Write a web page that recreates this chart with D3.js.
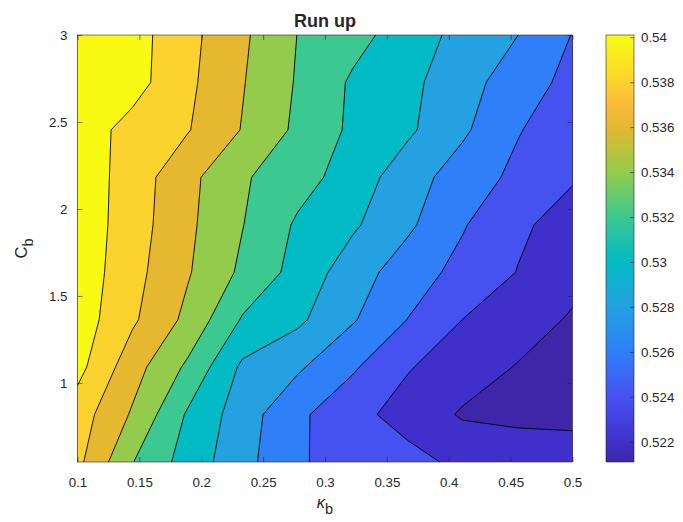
<!DOCTYPE html>
<html>
<head>
<meta charset="utf-8">
<script src="https://cdn.jsdelivr.net/npm/d3@7/dist/d3.min.js"></script>
<style>
  html, body { margin: 0; padding: 0; background: #fff; }
  svg text { font-family: "Liberation Sans", Arial, Helvetica, sans-serif; fill: #262626; }
</style>
</head>
<body>
<svg id="chart" width="683" height="522"></svg>
<script>
// Grid of the run-up study: κ_b across, C_b down the rows
const kappa = [0.1, 0.1444, 0.1889, 0.2333, 0.2778, 0.3222, 0.3667, 0.4111, 0.4556, 0.5];
const cB = [0.5455, 0.8182, 1.0909, 1.3636, 1.6364, 1.9091, 2.1818, 2.4545, 2.7273, 3.0];

// Run-up values, one row per C_b (ascending), one column per κ_b
const runUp = [
  [0.53850, 0.53407, 0.53116, 0.52868, 0.52618, 0.52534, 0.52470, 0.52350, 0.52354, 0.52297],
  [0.53900, 0.53577, 0.53177, 0.52896, 0.52639, 0.52467, 0.52317, 0.52180, 0.52140, 0.52150],
  [0.54064, 0.53682, 0.53365, 0.52962, 0.52830, 0.52626, 0.52415, 0.52293, 0.52190, 0.52110],
  [0.54110, 0.53831, 0.53551, 0.53181, 0.53040, 0.52819, 0.52597, 0.52399, 0.52286, 0.52180],
  [0.54130, 0.53866, 0.53619, 0.53361, 0.53130, 0.52896, 0.52697, 0.52540, 0.52395, 0.52260],
  [0.54130, 0.53895, 0.53641, 0.53406, 0.53172, 0.53030, 0.52837, 0.52617, 0.52430, 0.52330],
  [0.54130, 0.53906, 0.53657, 0.53424, 0.53279, 0.53112, 0.52889, 0.52704, 0.52555, 0.52415],
  [0.54110, 0.53930, 0.53813, 0.53590, 0.53360, 0.53163, 0.53035, 0.52834, 0.52613, 0.52480],
  [0.54090, 0.54078, 0.53843, 0.53612, 0.53382, 0.53173, 0.53053, 0.52877, 0.52698, 0.52541],
  [0.54090, 0.54081, 0.53861, 0.53634, 0.53397, 0.53268, 0.53106, 0.52937, 0.52802, 0.52593]
];

const levels = [0.522, 0.524, 0.526, 0.528, 0.530, 0.532, 0.534, 0.536, 0.538, 0.540];
const xTicks = [0.1, 0.15, 0.2, 0.25, 0.3, 0.35, 0.4, 0.45, 0.5];
const yTicks = [1, 1.5, 2, 2.5, 3];
const cbarTicks = [0.522, 0.524, 0.526, 0.528, 0.53, 0.532, 0.534, 0.536, 0.538, 0.54];
const cLim = [0.5211, 0.5401];

// parula-like colour ramp (position in colour limits -> colour)
const rampPos = [0, 0.047, 0.153, 0.258, 0.363, 0.468, 0.574, 0.679, 0.784, 0.84, 0.889, 0.995, 1];
const rampCol = ["#3e26a8", "#3f30cb", "#4652f0", "#2f7ff8", "#23a1e1", "#03bbc5", "#3cc891",
                 "#93cc4c", "#e5b82f", "#fbbb3d", "#fbd22e", "#f8fa14", "#f9fb0e"];
const ramp = d3.scaleLinear().domain(rampPos).range(rampCol).interpolate(d3.interpolateRgb).clamp(true);
const colorOf = v => ramp((v - cLim[0]) / (cLim[1] - cLim[0]));

const svg = d3.select("#chart");
const plot = { left: 77.5, right: 572.5, top: 35, bottom: 462 };
const axisColor = "#262626";
const fontFamily = '"Liberation Sans", Arial, Helvetica, sans-serif';

const x = d3.scaleLinear().domain([kappa[0], kappa[kappa.length - 1]]).range([plot.left, plot.right]);
const y = d3.scaleLinear().domain([cB[0], cB[cB.length - 1]]).range([plot.bottom, plot.top]);

// grid index -> data coordinate
const nx = kappa.length, ny = cB.length;
const ix = d3.scaleLinear().domain(d3.range(nx)).range(kappa);
const iy = d3.scaleLinear().domain(d3.range(ny)).range(cB);
const clampIdx = (u, n) => Math.max(0, Math.min(n - 1, u - 0.5));
const toPx = p => [x(ix(clampIdx(p[0], nx))), y(iy(clampIdx(p[1], ny)))];

const bands = d3.contours().size([nx, ny]).thresholds(levels)(runUp.flat());

const g = svg.append("g");

// lowest band fills the whole field
g.append("rect")
  .attr("x", plot.left).attr("y", plot.top)
  .attr("width", plot.right - plot.left).attr("height", plot.bottom - plot.top)
  .attr("fill", colorOf(cLim[0]));

// stacked filled regions, value >= level
const ringPath = ring => "M" + ring.map(p => toPx(p).map(v => v.toFixed(2)).join(",")).join("L") + "Z";
g.selectAll("path.band").data(bands).join("path")
  .attr("class", "band")
  .attr("fill", d => colorOf(d.value))
  .attr("fill-rule", "evenodd")
  .attr("d", d => d.coordinates.map(poly => poly.map(ringPath).join("")).join(""));

// contour lines, leaving out pieces that run along the frame
function linePath(d) {
  let out = "";
  const eq = (p, q) => Math.abs(p - q) < 1e-9;
  const onFrame = (a, b) => {
    const ua = clampIdx(a[0], nx), ub = clampIdx(b[0], nx);
    const va = clampIdx(a[1], ny), vb = clampIdx(b[1], ny);
    return (eq(ua, 0) && eq(ub, 0)) || (eq(ua, nx - 1) && eq(ub, nx - 1)) ||
           (eq(va, 0) && eq(vb, 0)) || (eq(va, ny - 1) && eq(vb, ny - 1));
  };
  d.coordinates.forEach(poly => poly.forEach(ring => {
    let pen = false;
    for (let i = 0; i < ring.length - 1; i++) {
      const a = ring[i], b = ring[i + 1];
      if (onFrame(a, b)) { pen = false; continue; }
      const pa = toPx(a), pb = toPx(b);
      if (!pen) { out += "M" + pa[0].toFixed(2) + "," + pa[1].toFixed(2); pen = true; }
      out += "L" + pb[0].toFixed(2) + "," + pb[1].toFixed(2);
    }
  }));
  return out;
}
g.selectAll("path.iso").data(bands).join("path")
  .attr("class", "iso")
  .attr("fill", "none")
  .attr("stroke", "#000")
  .attr("stroke-width", 0.9)
  .attr("stroke-linejoin", "round")
  .attr("d", linePath);

// axes frame and ticks (inward, mirrored on top/right)
const tickLen = 5;
const fontSize = 13.3;
svg.append("rect")
  .attr("x", plot.left).attr("y", plot.top)
  .attr("width", plot.right - plot.left).attr("height", plot.bottom - plot.top)
  .attr("fill", "none").attr("stroke", axisColor).attr("stroke-width", 0.6);

const xAxis = svg.append("g").attr("transform", `translate(0,${plot.bottom})`)
  .call(d3.axisBottom(x).tickValues(xTicks).tickSizeInner(-tickLen).tickSizeOuter(0).tickPadding(16).tickFormat(d => String(d)));
const xAxisTop = svg.append("g").attr("transform", `translate(0,${plot.top})`)
  .call(d3.axisTop(x).tickValues(xTicks).tickSizeInner(-tickLen).tickSizeOuter(0).tickFormat(""));
const yAxis = svg.append("g").attr("transform", `translate(${plot.left},0)`)
  .call(d3.axisLeft(y).tickValues(yTicks).tickSizeInner(-tickLen).tickSizeOuter(0).tickPadding(10).tickFormat(d => String(d)));
const yAxisRight = svg.append("g").attr("transform", `translate(${plot.right},0)`)
  .call(d3.axisRight(y).tickValues(yTicks).tickSizeInner(-tickLen).tickSizeOuter(0).tickFormat(""));

[xAxis, xAxisTop, yAxis, yAxisRight].forEach(a => {
  a.select(".domain").remove();
  a.selectAll(".tick line").attr("stroke", axisColor).attr("stroke-width", 0.6);
  a.selectAll(".tick text").attr("font-size", fontSize).attr("fill", axisColor).style("font-family", fontFamily);
});

// title and axis labels
svg.append("text").attr("x", (plot.left + plot.right) / 2).attr("y", 27)
  .attr("text-anchor", "middle").attr("font-size", 18).attr("font-weight", "bold").attr("fill", "#000")
  .text("Run up");

const xl = svg.append("text").attr("x", (plot.left + plot.right) / 2).attr("y", 508)
  .attr("text-anchor", "middle").attr("font-size", 16.5);
xl.append("tspan").attr("font-style", "italic").text("κ");
xl.append("tspan").attr("dy", 6).attr("font-size", 14.5).text("b");

const yl = svg.append("text")
  .attr("transform", `translate(27,${(plot.top + plot.bottom) / 2}) rotate(-90)`)
  .attr("text-anchor", "middle").attr("font-size", 16.5);
yl.append("tspan").text("C");
yl.append("tspan").attr("dy", 6).attr("font-size", 14.5).text("b");

// colour bar
const cbar = { left: 606, width: 28 };
const cy = d3.scaleLinear().domain(cLim).range([plot.bottom, plot.top]);
const grad = svg.append("defs").append("linearGradient")
  .attr("id", "cbarGrad").attr("x1", 0).attr("y1", 1).attr("x2", 0).attr("y2", 0);
grad.selectAll("stop").data(d3.range(0, 1.0001, 0.01)).join("stop")
  .attr("offset", t => t).attr("stop-color", t => ramp(t));
svg.append("rect").attr("x", cbar.left).attr("y", plot.top)
  .attr("width", cbar.width).attr("height", plot.bottom - plot.top)
  .attr("fill", "url(#cbarGrad)").attr("stroke", axisColor).attr("stroke-width", 0.6);
const cAxis = svg.append("g").attr("transform", `translate(${cbar.left + cbar.width},0)`)
  .call(d3.axisRight(cy).tickValues(cbarTicks).tickSizeInner(-4).tickSizeOuter(0).tickPadding(7).tickFormat(d => String(d)));
cAxis.select(".domain").remove();
cAxis.selectAll(".tick line").attr("stroke", axisColor).attr("stroke-width", 0.6);
cAxis.selectAll(".tick text").attr("font-size", fontSize).attr("fill", axisColor).style("font-family", fontFamily);
</script>
</body>
</html>
